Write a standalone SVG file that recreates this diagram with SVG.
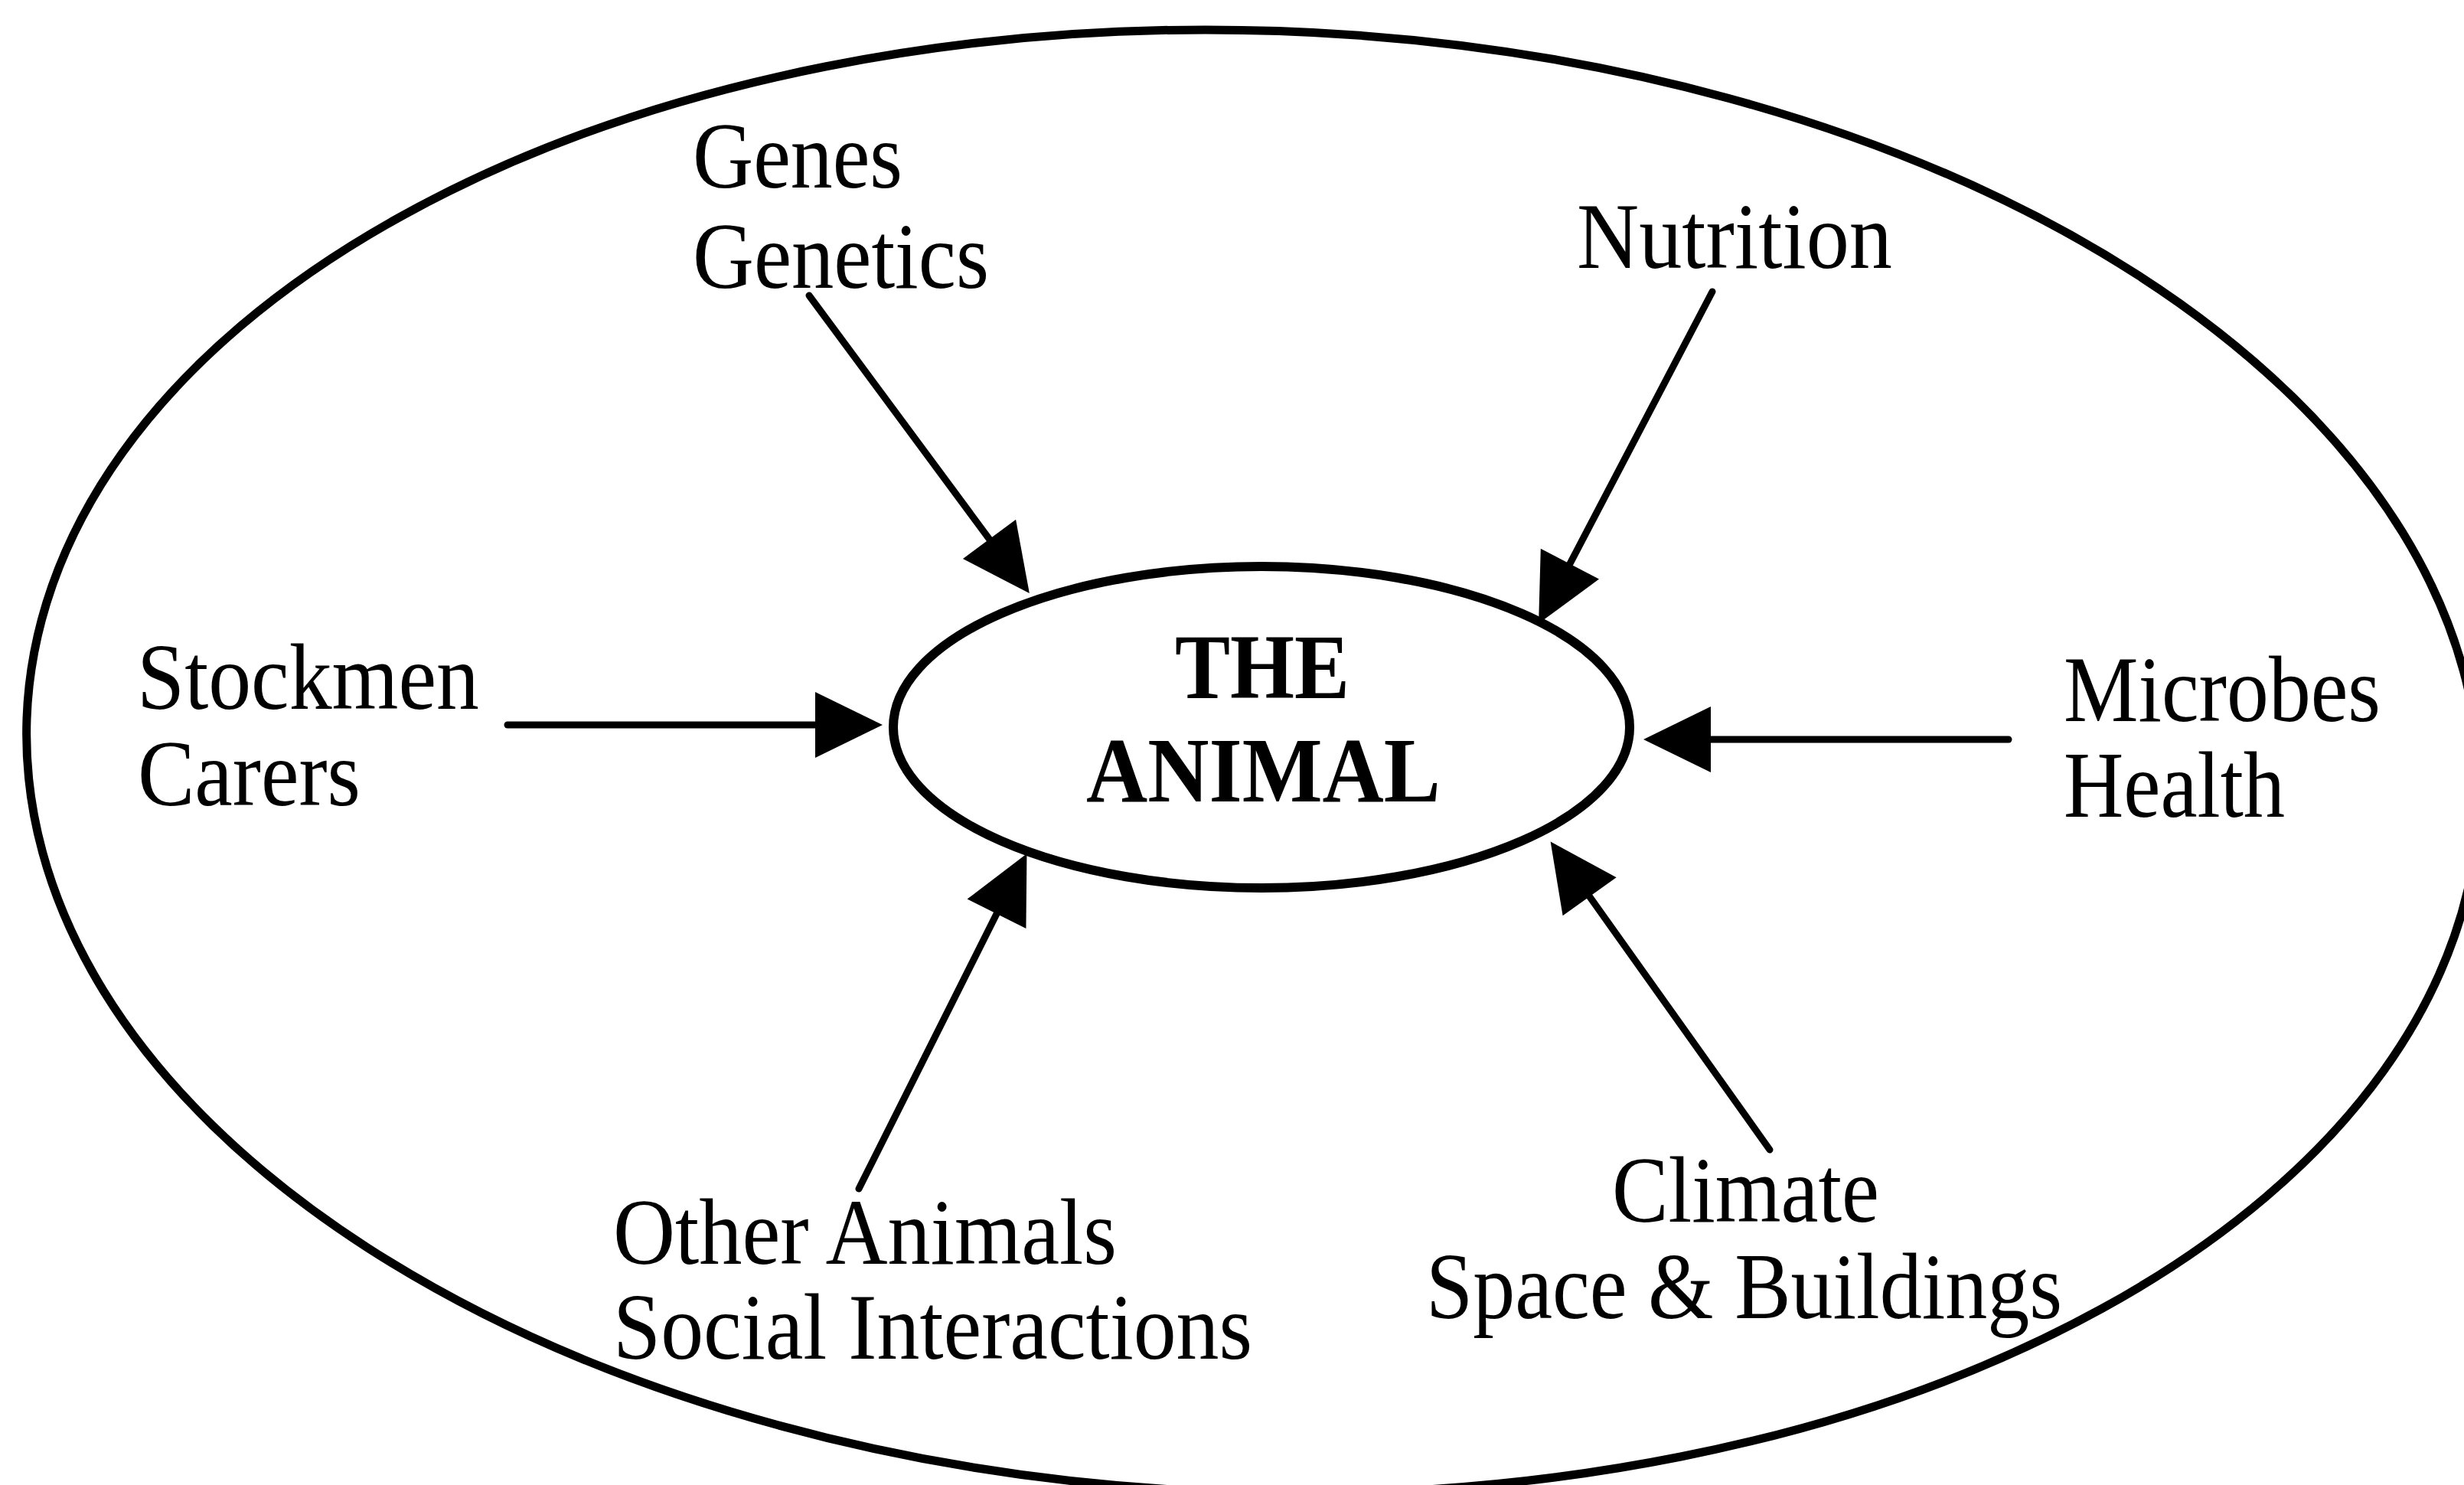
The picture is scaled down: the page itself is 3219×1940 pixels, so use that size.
<svg xmlns="http://www.w3.org/2000/svg" width="3219" height="1940" viewBox="0 0 3219 1940">
  <style>
    .lbl { font-family: "Liberation Serif", "Times New Roman", serif; font-size: 123px; fill: #000; }
    .bold { font-family: "Liberation Serif", "Times New Roman", serif; font-size: 121px; font-weight: bold; fill: #000; }
    .ring { fill: none; stroke: #000; }
    .conn { fill: none; stroke: #000; stroke-width: 9; stroke-linecap: round; }
  </style>
  <defs>
    <marker id="arrow" markerUnits="userSpaceOnUse" markerWidth="88" markerHeight="86" refX="58" refY="43" orient="auto" overflow="visible">
      <path d="M0,0 L88,43 L0,86 Z" fill="#000"/>
    </marker>
  </defs>
  <rect width="3219" height="1940" fill="#fff"/>

  <g id="boundary">
    <ellipse class="ring" cx="1637" cy="995" rx="1603" ry="955" stroke-width="11" transform="rotate(2 1637 995)"/>
  </g>

  <g id="animal">
    <ellipse class="ring" cx="1648" cy="950" rx="481" ry="210" stroke-width="12"/>
    <text class="bold" x="1535" y="912" textLength="228" lengthAdjust="spacingAndGlyphs">THE</text>
    <text class="bold" x="1419" y="1047" textLength="463" lengthAdjust="spacingAndGlyphs">ANIMAL</text>
  </g>

  <g id="genes">
    <text class="lbl" x="905" y="245" textLength="274" lengthAdjust="spacingAndGlyphs">Genes</text>
    <text class="lbl" x="905" y="376" textLength="387" lengthAdjust="spacingAndGlyphs">Genetics</text>
  </g>
  <g id="nutrition">
    <text class="lbl" x="2060" y="350" textLength="412" lengthAdjust="spacingAndGlyphs">Nutrition</text>
  </g>
  <g id="stockmen">
    <text class="lbl" x="179" y="926" textLength="447" lengthAdjust="spacingAndGlyphs">Stockmen</text>
    <text class="lbl" x="180" y="1052" textLength="291" lengthAdjust="spacingAndGlyphs">Carers</text>
  </g>
  <g id="microbes">
    <text class="lbl" x="2696" y="942" textLength="414" lengthAdjust="spacingAndGlyphs">Microbes</text>
    <text class="lbl" x="2696" y="1067" textLength="289" lengthAdjust="spacingAndGlyphs">Health</text>
  </g>
  <g id="other-animals">
    <text class="lbl" x="801" y="1651" textLength="658" lengthAdjust="spacingAndGlyphs">Other Animals</text>
    <text class="lbl" x="801" y="1775" textLength="835" lengthAdjust="spacingAndGlyphs">Social Interactions</text>
  </g>
  <g id="climate">
    <text class="lbl" x="2106" y="1596" textLength="349" lengthAdjust="spacingAndGlyphs">Climate</text>
    <text class="lbl" x="1863" y="1722" textLength="831" lengthAdjust="spacingAndGlyphs">Space &amp; Buildings</text>
  </g>

  <g id="connectors">
    <line class="conn" x1="1057" y1="386" x2="1327" y2="751" marker-end="url(#arrow)"/>
    <line class="conn" x1="2237" y1="381" x2="2024" y2="788" marker-end="url(#arrow)"/>
    <line class="conn" x1="663" y1="947" x2="1123" y2="947" marker-end="url(#arrow)"/>
    <line class="conn" x1="2624" y1="966" x2="2177" y2="966" marker-end="url(#arrow)"/>
    <line class="conn" x1="1122" y1="1553" x2="1328" y2="1142" marker-end="url(#arrow)"/>
    <line class="conn" x1="2312" y1="1502" x2="2043" y2="1124" marker-end="url(#arrow)"/>
  </g>
</svg>
